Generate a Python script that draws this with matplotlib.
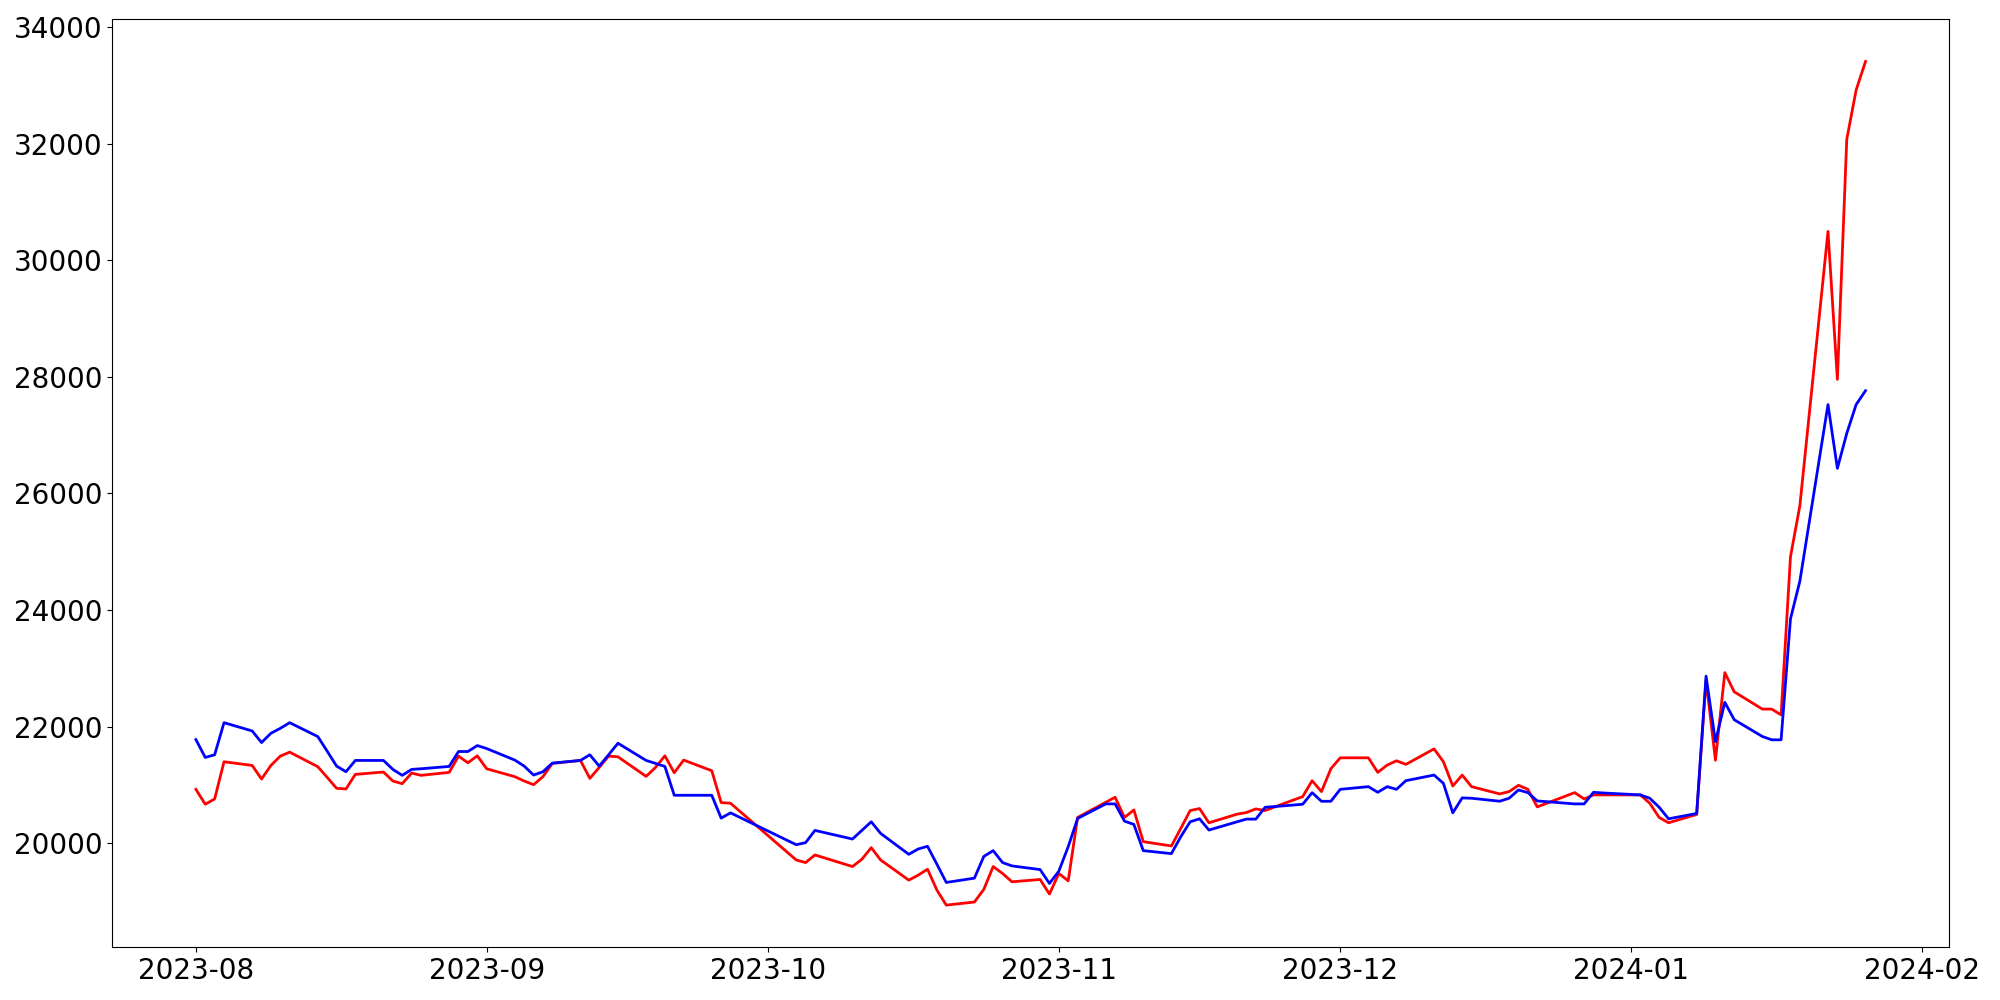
import matplotlib
matplotlib.use("Agg")
import matplotlib.pyplot as plt
import matplotlib.dates as mdates
import pandas as pd

dates = [
    "2023-08-01", "2023-08-02", "2023-08-03", "2023-08-04", "2023-08-07", "2023-08-08",
    "2023-08-09", "2023-08-10", "2023-08-11", "2023-08-14", "2023-08-15", "2023-08-16",
    "2023-08-17", "2023-08-18", "2023-08-21", "2023-08-22", "2023-08-23", "2023-08-24",
    "2023-08-25", "2023-08-28", "2023-08-29", "2023-08-30", "2023-08-31", "2023-09-01",
    "2023-09-04", "2023-09-05", "2023-09-06", "2023-09-07", "2023-09-08", "2023-09-11",
    "2023-09-12", "2023-09-13", "2023-09-14", "2023-09-15", "2023-09-18", "2023-09-19",
    "2023-09-20", "2023-09-21", "2023-09-22", "2023-09-25", "2023-09-26", "2023-09-27",
    "2023-10-04", "2023-10-05", "2023-10-06", "2023-10-10", "2023-10-11", "2023-10-12",
    "2023-10-13", "2023-10-16", "2023-10-17", "2023-10-18", "2023-10-19", "2023-10-20",
    "2023-10-23", "2023-10-24", "2023-10-25", "2023-10-26", "2023-10-27", "2023-10-30",
    "2023-10-31", "2023-11-01", "2023-11-02", "2023-11-03", "2023-11-06", "2023-11-07",
    "2023-11-08", "2023-11-09", "2023-11-10", "2023-11-13", "2023-11-14", "2023-11-15",
    "2023-11-16", "2023-11-17", "2023-11-20", "2023-11-21", "2023-11-22", "2023-11-23",
    "2023-11-24", "2023-11-27", "2023-11-28", "2023-11-29", "2023-11-30", "2023-12-01",
    "2023-12-04", "2023-12-05", "2023-12-06", "2023-12-07", "2023-12-08", "2023-12-11",
    "2023-12-12", "2023-12-13", "2023-12-14", "2023-12-15", "2023-12-18", "2023-12-19",
    "2023-12-20", "2023-12-21", "2023-12-22", "2023-12-26", "2023-12-27", "2023-12-28",
    "2023-12-29", "2024-01-02", "2024-01-03", "2024-01-04", "2024-01-05", "2024-01-08",
    "2024-01-09", "2024-01-10", "2024-01-11", "2024-01-12", "2024-01-15", "2024-01-16",
    "2024-01-17", "2024-01-18", "2024-01-19", "2024-01-22", "2024-01-23", "2024-01-24",
    "2024-01-25", "2024-01-26",
]

blue_values = [
    21776, 21469, 21515, 22066, 21924, 21725,
    21884, 21969, 22066, 21827, 21576, 21321,
    21224, 21418, 21418, 21264, 21162, 21264,
    21275, 21315, 21571, 21571, 21673, 21622,
    21424, 21321, 21167, 21224, 21372, 21418,
    21515, 21321, 21515, 21713, 21418, 21367,
    21315, 20820, 20820, 20820, 20428, 20518,
    19972, 20007, 20217, 20069, 20217, 20365,
    20166, 19807, 19898, 19944, 19637, 19324,
    19398, 19770, 19870, 19665, 19608, 19545,
    19307, 19518, 19938, 20422, 20672, 20672,
    20376, 20320, 19870, 19819, 20109, 20365,
    20416, 20223, 20365, 20411, 20411, 20615,
    20626, 20666, 20865, 20717, 20717, 20922,
    20968, 20871, 20968, 20922, 21071, 21167,
    21025, 20519, 20775, 20769, 20718, 20769,
    20911, 20866, 20723, 20672, 20672, 20871,
    20860, 20826, 20769, 20615, 20416, 20508,
    22865, 21740, 22415, 22117, 21829, 21772,
    21772, 23847, 24494, 27525, 26430, 27030,
    27525, 27763,
]

red_values = [
    20922, 20666, 20757, 21395, 21332, 21099,
    21332, 21492, 21560, 21310, 21127, 20940,
    20928, 21179, 21219, 21065, 21019, 21201,
    21162, 21213, 21492, 21378, 21497, 21275,
    21139, 21065, 21002, 21139, 21367, 21418,
    21110, 21298, 21492, 21480, 21144, 21298,
    21497, 21207, 21424, 21241, 20695, 20683,
    19710, 19665, 19796, 19597, 19722, 19921,
    19710, 19364, 19449, 19551, 19193, 18935,
    18988, 19205, 19597, 19478, 19335, 19375,
    19125, 19478, 19352, 20439, 20700, 20786,
    20439, 20569, 20024, 19950, 20251, 20558,
    20592, 20348, 20496, 20524, 20586, 20558,
    20620, 20797, 21070, 20883, 21275, 21463,
    21463, 21213, 21338, 21412, 21350, 21616,
    21395, 20979, 21167, 20968, 20843, 20883,
    20991, 20923, 20621, 20866, 20757, 20826,
    20826, 20826, 20683, 20439, 20348, 20491,
    22800, 21422, 22925, 22596, 22299, 22299,
    22200, 24913, 25789, 30497, 27958, 32076,
    32923, 33413,
]

x = pd.to_datetime(dates)

fig = plt.figure(figsize=(20, 10), dpi=100)
ax = fig.add_axes([0.0562, 0.0527, 0.9745 - 0.0562, 0.9807 - 0.0527])
ax.plot(x, red_values, color="red", linewidth=2)
ax.plot(x, blue_values, color="blue", linewidth=2)

ax.xaxis.set_major_locator(mdates.MonthLocator())
ax.xaxis.set_major_formatter(mdates.DateFormatter("%Y-%m"))
ax.tick_params(axis="both", labelsize=20)

fig.savefig("out.png", dpi=100)
